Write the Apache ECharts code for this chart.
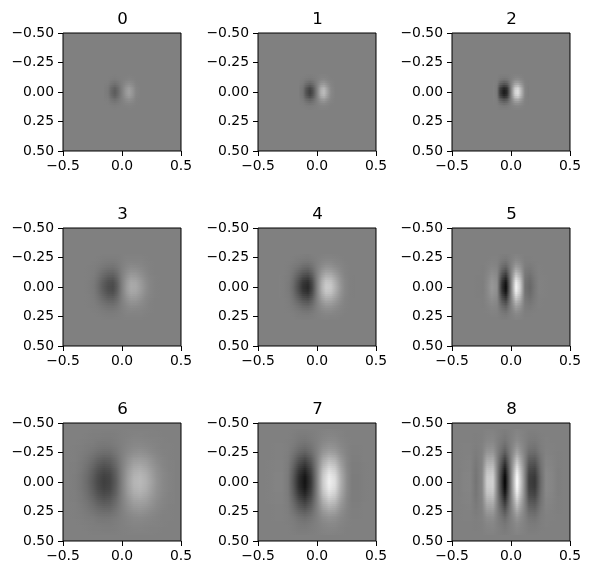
<!DOCTYPE html>
<html><head><meta charset="utf-8">
<style>html,body{margin:0;padding:0;background:#fff}#c{width:590px;height:574px}</style>
<script src="https://cdn.jsdelivr.net/npm/echarts@6/dist/echarts.min.js"></script>
</head><body><div id="c"></div>
<script>
const titles=["0","1","2","3","4","5","6","7","8"];
const cellSteps=[0.03,0.03,0.03,0.04,0.04,0.04,0.05,0.05,0.05];
// grey offset from mid grey; rows top to bottom, columns left to right
const panel0=[
[0,0,0,-1,0,0,0,1,0,0,0],
[0,0,-1,-2,-1,0,1,2,1,0,0],
[0,-1,-5,-8,-5,0,5,7,4,1,0],
[-1,-3,-12,-19,-12,0,12,17,10,2,0],
[-2,-5,-20,-32,-20,0,20,29,17,4,1],
[-2,-6,-24,-38,-24,0,24,34,20,5,1],
[-2,-5,-20,-32,-20,0,20,29,17,4,1],
[-1,-3,-12,-19,-12,0,12,17,10,2,0],
[0,-1,-5,-8,-5,0,5,7,4,1,0],
[0,0,-1,-2,-1,0,1,2,1,0,0],
[0,0,0,-1,0,0,0,1,0,0,0]];
const panel1=[
[0,0,-1,-1,-1,0,1,1,0,0,0],
[0,-1,-3,-4,-3,0,3,4,2,0,0],
[-1,-3,-9,-14,-10,0,10,12,6,2,0],
[-1,-7,-22,-33,-24,0,25,30,15,4,0],
[-3,-12,-38,-57,-40,0,42,52,25,7,1],
[-3,-14,-45,-68,-48,0,50,62,30,8,1],
[-3,-12,-38,-57,-40,0,42,52,25,7,1],
[-1,-7,-22,-33,-24,0,25,30,15,4,0],
[-1,-3,-9,-14,-10,0,10,12,6,2,0],
[0,-1,-3,-4,-3,0,3,4,2,0,0],
[0,0,-1,-1,-1,0,1,1,0,0,0]];
const panel2=[
[0,0,-1,-1,-1,0,1,1,0,0,0],
[0,0,-4,-6,-5,0,5,6,3,0,0],
[1,-1,-13,-22,-17,0,18,20,9,1,-1],
[2,-3,-34,-52,-44,0,42,49,22,2,-1],
[3,-5,-59,-88,-76,0,71,84,38,4,-3],
[3,-6,-70,-105,-90,0,85,100,45,5,-3],
[3,-5,-59,-88,-76,0,71,84,38,4,-3],
[2,-3,-34,-52,-44,0,42,49,22,2,-1],
[1,-1,-13,-22,-17,0,18,20,9,1,-1],
[0,0,-4,-6,-5,0,5,6,3,0,0],
[0,0,-1,-1,-1,0,1,1,0,0,0]];
const panel3=[
[0,0,0,0,-1,-1,-1,-1,0,1,1,1,1,0,0,0,0],
[0,0,0,-1,-2,-3,-3,-2,0,2,2,2,2,1,0,0,0],
[0,0,-1,-2,-5,-7,-7,-5,0,4,6,5,4,2,1,0,0],
[0,-1,-2,-5,-10,-14,-15,-10,0,8,12,11,8,4,1,0,0],
[0,-1,-3,-9,-18,-25,-26,-18,0,14,21,20,13,6,2,0,0],
[0,-1,-5,-13,-26,-37,-39,-26,0,20,31,29,20,9,4,1,0],
[0,-2,-6,-17,-33,-46,-50,-33,0,26,39,37,25,12,5,1,0],
[0,-2,-7,-18,-36,-50,-54,-36,0,28,42,40,27,13,5,1,0],
[0,-2,-6,-17,-33,-46,-50,-33,0,26,39,37,25,12,5,1,0],
[0,-1,-5,-13,-26,-37,-39,-26,0,20,31,29,20,9,4,1,0],
[0,-1,-3,-9,-18,-25,-26,-18,0,14,21,20,13,6,2,0,0],
[0,-1,-2,-5,-10,-14,-15,-10,0,8,12,11,8,4,1,0,0],
[0,0,-1,-2,-5,-7,-7,-5,0,4,6,5,4,2,1,0,0],
[0,0,0,-1,-2,-3,-3,-2,0,2,2,2,2,1,0,0,0],
[0,0,0,0,-1,-1,-1,-1,0,1,1,1,1,0,0,0,0]];
const panel4=[
[0,0,0,0,-1,-2,-2,-1,0,1,2,1,1,0,0,0,0],
[0,0,0,-1,-3,-4,-5,-3,0,3,4,4,3,1,0,0,0],
[0,0,-1,-3,-6,-11,-12,-8,0,7,10,10,6,3,1,0,0],
[0,0,-2,-6,-13,-22,-25,-17,0,14,21,20,13,6,2,0,0],
[0,0,-3,-10,-24,-38,-43,-29,0,25,37,35,23,10,3,0,0],
[1,-1,-4,-15,-35,-57,-64,-44,0,37,55,53,34,15,4,0,-1],
[1,-1,-6,-18,-44,-72,-81,-55,0,46,69,66,42,18,6,0,-1],
[1,-1,-6,-20,-48,-78,-88,-60,0,50,75,72,46,20,6,0,-1],
[1,-1,-6,-18,-44,-72,-81,-55,0,46,69,66,42,18,6,0,-1],
[1,-1,-4,-15,-35,-57,-64,-44,0,37,55,53,34,15,4,0,-1],
[0,0,-3,-10,-24,-38,-43,-29,0,25,37,35,23,10,3,0,0],
[0,0,-2,-6,-13,-22,-25,-17,0,14,21,20,13,6,2,0,0],
[0,0,-1,-3,-6,-11,-12,-8,0,7,10,10,6,3,1,0,0],
[0,0,0,-1,-3,-4,-5,-3,0,3,4,4,3,1,0,0,0],
[0,0,0,0,-1,-2,-2,-1,0,1,2,1,1,0,0,0,0]];
const panel5=[
[0,0,0,0,0,0,-2,-2,0,2,2,0,0,0,0,0,0],
[0,0,0,0,1,1,-4,-7,0,7,4,-1,-1,0,0,0,0],
[0,0,0,1,3,2,-11,-16,0,16,11,-2,-3,-1,0,0,0],
[0,0,-1,2,7,4,-22,-33,0,33,22,-4,-7,-2,1,0,0],
[0,0,-1,4,12,7,-39,-58,0,58,39,-7,-12,-4,1,0,0],
[0,-1,-1,6,18,10,-58,-86,0,86,58,-10,-18,-6,1,1,0],
[0,-1,-2,7,22,13,-74,-109,0,109,74,-13,-22,-7,2,1,0],
[0,-1,-2,8,24,14,-80,-118,0,118,80,-14,-24,-8,2,1,0],
[0,-1,-2,7,22,13,-74,-109,0,109,74,-13,-22,-7,2,1,0],
[0,-1,-1,6,18,10,-58,-86,0,86,58,-10,-18,-6,1,1,0],
[0,0,-1,4,12,7,-39,-58,0,58,39,-7,-12,-4,1,0,0],
[0,0,-1,2,7,4,-22,-33,0,33,22,-4,-7,-2,1,0,0],
[0,0,0,1,3,2,-11,-16,0,16,11,-2,-3,-1,0,0,0],
[0,0,0,0,1,1,-4,-7,0,7,4,-1,-1,0,0,0,0],
[0,0,0,0,0,0,-2,-2,0,2,2,0,0,0,0,0,0]];
const panel6=[
[0,0,0,0,-1,-1,-1,-1,-1,0,1,1,1,1,1,0,0,0,0],
[0,0,0,-1,-2,-2,-3,-3,-2,0,1,2,3,2,1,1,0,0,0],
[0,0,-1,-2,-3,-5,-6,-5,-3,0,3,5,5,4,3,2,1,0,0],
[0,-1,-2,-4,-6,-9,-11,-10,-6,0,5,9,10,8,5,3,1,1,0],
[0,-1,-3,-6,-11,-16,-19,-18,-10,0,9,15,17,14,9,5,2,1,0],
[0,-1,-4,-10,-17,-25,-30,-28,-16,0,14,24,26,22,15,8,4,1,0],
[-1,-2,-6,-13,-24,-35,-42,-38,-22,0,19,33,36,31,20,12,5,2,1],
[-1,-2,-7,-17,-31,-45,-54,-49,-29,0,25,43,47,39,26,15,7,2,1],
[-1,-3,-9,-20,-36,-52,-63,-57,-33,0,29,49,54,46,30,17,8,3,1],
[-1,-3,-9,-21,-38,-55,-66,-60,-35,0,30,52,57,48,32,18,8,3,1],
[-1,-3,-9,-20,-36,-52,-63,-57,-33,0,29,49,54,46,30,17,8,3,1],
[-1,-2,-7,-17,-31,-45,-54,-49,-29,0,25,43,47,39,26,15,7,2,1],
[-1,-2,-6,-13,-24,-35,-42,-38,-22,0,19,33,36,31,20,12,5,2,1],
[0,-1,-4,-10,-17,-25,-30,-28,-16,0,14,24,26,22,15,8,4,1,0],
[0,-1,-3,-6,-11,-16,-19,-18,-10,0,9,15,17,14,9,5,2,1,0],
[0,-1,-2,-4,-6,-9,-11,-10,-6,0,5,9,10,8,5,3,1,1,0],
[0,0,-1,-2,-3,-5,-6,-5,-3,0,3,5,5,4,3,2,1,0,0],
[0,0,0,-1,-2,-2,-3,-3,-2,0,1,2,3,2,1,1,0,0,0],
[0,0,0,0,-1,-1,-1,-1,-1,0,1,1,1,1,1,0,0,0,0]];
const panel7=[
[0,0,0,0,0,-1,-2,-2,-1,0,2,2,2,1,0,0,0,0,0],
[0,0,0,0,0,-2,-4,-5,-3,0,3,5,4,2,0,0,0,0,0],
[0,0,0,0,-1,-3,-8,-10,-6,0,7,10,9,4,1,0,0,0,0],
[0,0,1,1,-1,-6,-14,-19,-12,0,13,19,16,8,2,-1,-1,0,0],
[0,0,1,1,-2,-11,-25,-32,-21,0,22,33,28,13,3,-1,-1,0,0],
[0,0,1,1,-3,-17,-39,-51,-33,0,35,52,44,21,5,-2,-2,0,0],
[0,1,2,2,-4,-24,-54,-70,-46,0,48,72,61,29,6,-3,-3,-1,0],
[0,1,2,2,-5,-31,-70,-90,-59,0,62,92,78,37,8,-3,-3,-1,0],
[0,1,3,3,-6,-36,-81,-105,-68,0,71,106,90,43,10,-4,-4,-1,0],
[0,1,3,3,-6,-38,-85,-110,-72,0,75,112,95,45,10,-4,-4,-1,0],
[0,1,3,3,-6,-36,-81,-105,-68,0,71,106,90,43,10,-4,-4,-1,0],
[0,1,2,2,-5,-31,-70,-90,-59,0,62,92,78,37,8,-3,-3,-1,0],
[0,1,2,2,-4,-24,-54,-70,-46,0,48,72,61,29,6,-3,-3,-1,0],
[0,0,1,1,-3,-17,-39,-51,-33,0,35,52,44,21,5,-2,-2,0,0],
[0,0,1,1,-2,-11,-25,-32,-21,0,22,33,28,13,3,-1,-1,0,0],
[0,0,1,1,-1,-6,-14,-19,-12,0,13,19,16,8,2,-1,-1,0,0],
[0,0,0,0,-1,-3,-8,-10,-6,0,7,10,9,4,1,0,0,0,0],
[0,0,0,0,0,-2,-4,-5,-3,0,3,5,4,2,0,0,0,0,0],
[0,0,0,0,0,-1,-2,-2,-1,0,2,2,2,1,0,0,0,0,0]];
const panel8=[
[0,0,0,0,0,2,2,-1,-3,0,3,1,-1,-1,0,0,0,0,0],
[0,0,0,-1,0,3,4,-1,-6,0,6,2,-3,-3,-1,0,0,0,0],
[0,0,0,-1,0,7,7,-3,-11,0,11,3,-6,-7,-2,1,0,0,0],
[0,1,1,-2,1,13,14,-5,-22,0,22,6,-11,-13,-3,1,1,0,0],
[0,1,1,-4,1,23,24,-9,-37,0,37,10,-19,-22,-6,2,1,-1,0],
[0,1,2,-6,2,36,38,-14,-58,0,58,16,-30,-34,-9,4,2,-1,0],
[0,2,3,-8,3,50,52,-19,-81,0,81,22,-42,-47,-13,5,3,-1,0],
[-1,2,3,-10,4,64,67,-25,-104,0,104,29,-54,-61,-16,7,4,-2,0],
[-1,3,4,-11,5,74,78,-29,-121,0,121,33,-63,-70,-19,8,5,-2,0],
[-1,3,4,-12,5,78,82,-30,-127,0,127,35,-66,-74,-20,8,5,-2,0],
[-1,3,4,-11,5,74,78,-29,-121,0,121,33,-63,-70,-19,8,5,-2,0],
[-1,2,3,-10,4,64,67,-25,-104,0,104,29,-54,-61,-16,7,4,-2,0],
[0,2,3,-8,3,50,52,-19,-81,0,81,22,-42,-47,-13,5,3,-1,0],
[0,1,2,-6,2,36,38,-14,-58,0,58,16,-30,-34,-9,4,2,-1,0],
[0,1,1,-4,1,23,24,-9,-37,0,37,10,-19,-22,-6,2,1,-1,0],
[0,1,1,-2,1,13,14,-5,-22,0,22,6,-11,-13,-3,1,1,0,0],
[0,0,0,-1,0,7,7,-3,-11,0,11,3,-6,-7,-2,1,0,0,0],
[0,0,0,-1,0,3,4,-1,-6,0,6,2,-3,-3,-1,0,0,0,0],
[0,0,0,0,0,2,2,-1,-3,0,3,1,-1,-1,0,0,0,0,0]];
const panels=[panel0,panel1,panel2,panel3,panel4,panel5,panel6,panel7,panel8];

const MID=128;
const lefts=[63,258,452], tops=[33,228,423], SIZE=118;
const FONT='"DejaVu Sans"';
const grey=v=>{const g=Math.max(0,Math.min(255,Math.round(MID+v)));return `rgb(${g},${g},${g})`;};
const fmtTick=(v,d)=>v.toFixed(d).replace('-','\u2212');
const chart=echarts.init(document.getElementById('c'),null,{renderer:'canvas'});
const grid=[],xAxis=[],yAxis=[],title=[],series=[];
panels.forEach((rows,p)=>{
  const col=p%3,row=Math.floor(p/3);
  grid.push({left:lefts[col],top:tops[row],width:SIZE,height:SIZE,show:true,backgroundColor:'#808080',borderColor:'#000',borderWidth:1,z:0});
  const axisCommon={gridIndex:p,type:'value',min:-0.5,max:0.5,splitLine:{show:false},
    axisLine:{show:false,onZero:false},axisTick:{show:true,length:5,lineStyle:{color:'#000',width:1}}};
  xAxis.push({...axisCommon,position:'bottom',interval:0.5,axisLabel:{color:'#000',fontFamily:FONT,fontSize:13.9,margin:8,formatter:v=>fmtTick(v,1)}});
  yAxis.push({...axisCommon,position:'left',inverse:true,interval:0.25,axisLabel:{color:'#000',fontFamily:FONT,fontSize:13.9,margin:9,formatter:v=>fmtTick(v,2)}});
  title.push({text:titles[p],left:lefts[col]+SIZE/2-4.5,top:tops[row]-27,textAlign:'center',textStyle:{color:'#000',fontFamily:FONT,fontSize:16.67,fontWeight:'normal'}});
  const step=cellSteps[p],m=rows.length,n=rows[0].length,data=[];
  rows.forEach((r,j)=>r.forEach((v,i)=>data.push([(i-(n-1)/2)*step,(j-(m-1)/2)*step,v])));
  series.push({type:'custom',coordinateSystem:'cartesian2d',xAxisIndex:p,yAxisIndex:p,silent:true,animation:false,data,
    encode:{x:0,y:1},clip:true,
    renderItem(params,api){
      const idx=params.dataIndex,i=idx%n,j=Math.floor(idx/n);
      if(i===n-1||j===m-1)return null;
      const x=api.value(0),y=api.value(1);
      const a=api.coord([x,y]),b=api.coord([x+step,y+step]);
      const x0=Math.round(a[0]),x1=Math.round(b[0]),y0=Math.round(a[1]),y1=Math.round(b[1]);
      const tl=rows[j][i],tr=rows[j][i+1],bl=rows[j+1][i],br=rows[j+1][i+1];
      const children=[];
      for(let py=y0;py<y1;py+=2){
        const h=Math.min(2,y1-py),t=(py+h/2-y0)/(y1-y0);
        children.push({type:'rect',shape:{x:x0,y:py,width:x1-x0,height:h},
          style:{fill:new echarts.graphic.LinearGradient(0,0,1,0,[
            {offset:0,color:grey(tl+(bl-tl)*t)},{offset:1,color:grey(tr+(br-tr)*t)}])}});
      }
      return {type:'group',children};
    }});
});
chart.setOption({animation:false,backgroundColor:'#fff',title,grid,xAxis,yAxis,series});
</script></body></html>
